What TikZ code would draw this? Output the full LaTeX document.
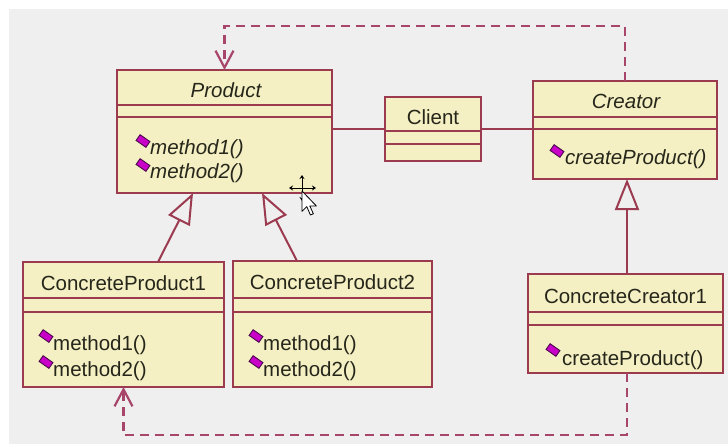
\documentclass[tikz,border=0pt]{standalone}
\usepackage{fontspec}
\setmainfont{Liberation Sans}
\usetikzlibrary{arrows.meta,shapes.geometric,calc}
\definecolor{bord}{HTML}{9C3B50}
\definecolor{depc}{HTML}{A8456A}
\definecolor{clsfill}{HTML}{F4F0C4}
\definecolor{bgc}{HTML}{EFEFEF}
\definecolor{txt}{HTML}{26261A}
\definecolor{iconf}{HTML}{C800C8}
\definecolor{icond}{HTML}{4A0A4A}
\begin{document}
\begin{tikzpicture}[x=1pt,y=-1pt,
  cls/.style={draw=bord, fill=clsfill, line width=2pt, rectangle, inner sep=0pt, outer sep=0pt, anchor=north west},
  sep/.style={draw=bord, line width=2pt},
  lbl/.style={text=txt, font=\fontsize{20.5}{24}\selectfont, inner sep=0pt},
  icon/.style={rectangle, fill=iconf, draw=icond, line width=0.9pt, minimum width=12pt, minimum height=7pt, inner sep=0pt, rotate=-35},
  assoc/.style={draw=bord, line width=2pt},
  gen/.style={draw=bord, line width=2pt, -{Triangle[open, length=31pt, width=24pt]}},
  dep/.style={draw=depc, line width=2.2pt, dash pattern=on 9pt off 6pt, -{Straight Barb[length=17pt, width=18pt]}},
]
\useasboundingbox (0,0) rectangle (728,444);
\fill[white] (0,0) rectangle (728,444);
\fill[bgc] (9,9) rectangle (728,444);

% classes
\node[cls, minimum width=215pt, minimum height=123pt] (product) at (117,70) {};
\node[cls, minimum width=96pt, minimum height=64pt] (client) at (385,97) {};
\node[cls, minimum width=184pt, minimum height=98pt] (creator) at (533,81) {};
\node[cls, minimum width=201pt, minimum height=125pt] (cp1) at (23,262) {};
\node[cls, minimum width=199pt, minimum height=126pt] (cp2) at (233,261) {};
\node[cls, minimum width=195pt, minimum height=99pt] (cc1) at (528,274) {};

\foreach \n/\a/\b in {product/35/47, client/34/47, creator/36/48, cp1/36/50, cp2/37/51, cc1/38/51} {
  \draw[sep] ($(\n.north west)+(0,\a)$) -- ($(\n.north east)+(0,\a)$);
  \draw[sep] ($(\n.north west)+(0,\b)$) -- ($(\n.north east)+(0,\b)$);
}

% texts
\node[lbl, anchor=base] (productname) at (226,97) {\itshape Product};
\node[lbl, anchor=base west] (pm1) at (150,154) {\itshape method1()};
\node[lbl, anchor=base west] (pm2) at (150,178) {\itshape method2()};
\node[icon] (pi1) at (143,141) {};
\node[icon] (pi2) at (143,165) {};

\node[lbl, anchor=base] (clientname) at (433,124) {Client};

\node[lbl, anchor=base] (creatorname) at (626,108) {\itshape Creator};
\node[lbl, anchor=base west] (crm) at (565,164) {\itshape createProduct()};
\node[icon] (cri) at (557,151) {};

\node[lbl, anchor=base] (cp1name) at (123.5,290) {ConcreteProduct1};
\node[lbl, anchor=base west] (cp1m1) at (53,350) {method1()};
\node[lbl, anchor=base west] (cp1m2) at (53,376) {method2()};
\node[icon] (cp1i1) at (46,336) {};
\node[icon] (cp1i2) at (46,362) {};

\node[lbl, anchor=base] (cp2name) at (332.5,289) {ConcreteProduct2};
\node[lbl, anchor=base west] (cp2m1) at (263,350) {method1()};
\node[lbl, anchor=base west] (cp2m2) at (263,376) {method2()};
\node[icon] (cp2i1) at (256,336) {};
\node[icon] (cp2i2) at (256,362) {};

\node[lbl, anchor=base] (cc1name) at (625.5,303) {ConcreteCreator1};
\node[lbl, anchor=base west] (cc1m) at (562,365) {createProduct()};
\node[icon] (cc1i) at (553,350) {};

% associations
\draw[assoc] (client.west -| product.east) -- (client.west);
\draw[assoc] (client.east) -- (client.east -| creator.west);

% generalizations
\draw[gen] ([xshift=34.5pt]cp1.north) -- ([xshift=-31.5pt]product.south);
\draw[gen] ([xshift=-35.5pt]cp2.north) -- ([xshift=37.5pt]product.south);
\draw[gen] ([xshift=1.5pt]cc1.north) -- ([xshift=1.5pt]cc1.north |- creator.south);

% dependencies
\draw[dep] (creator.north) -- ++(0,-55) -| (product.north);
\draw[dep] ([xshift=1.5pt]cc1.south) -- ++(0,62) -| (cp1.south);

% mouse cursor
\draw[black, line width=1pt, {Stealth[length=4pt,width=5pt]}-{Stealth[length=4pt,width=5pt]}] (289,188) -- (316,188);
\draw[black, line width=1pt, {Stealth[length=4pt,width=5pt]}-{Stealth[length=4pt,width=5pt]}] (302,175) -- (302,201);
\begin{scope}[shift={(302,191)}, scale=1.2]
\draw[fill=white, draw=black, line width=0.8pt, line join=round] (0,0) -- (0,17) -- (4,13) -- (7,20) -- (9.5,19) -- (6.5,12.5) -- (12,12.5) -- cycle;
\end{scope}
\end{tikzpicture}
\end{document}
